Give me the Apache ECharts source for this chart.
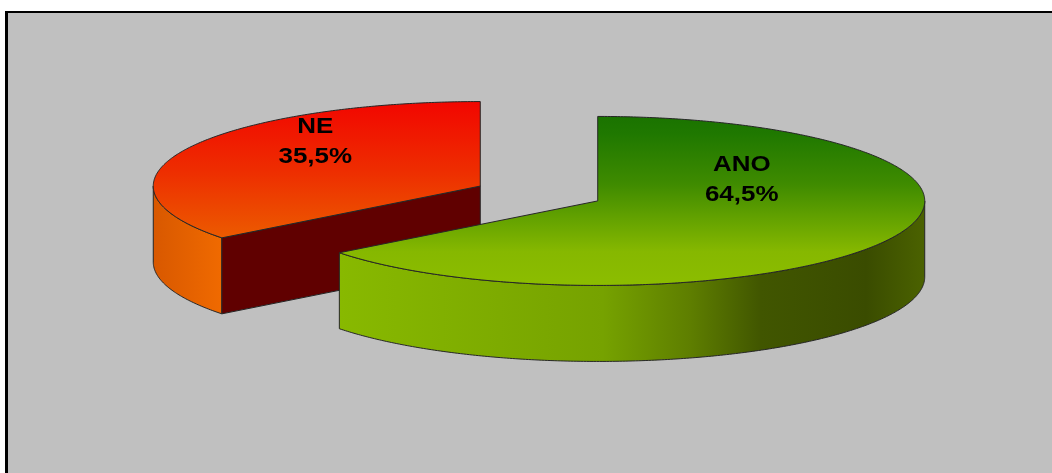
<!DOCTYPE html>
<html>
<head>
<meta charset="utf-8">
<title>ANO / NE</title>
<script src="https://cdn.jsdelivr.net/npm/echarts@6/dist/echarts.min.js"></script>
<style>
  html, body { margin: 0; padding: 0; background: #ffffff; }
  #chart { width: 1052px; height: 473px; }
</style>
</head>
<body>
<div id="chart"></div>
<script>
// Answer categories and their shares (percent)
const categories = ['ANO', 'NE'];
const shares = [64.5, 35.5];

// Geometry of the tilted pie (pixels)
const PIE = { cx: 539, cy: 193.5, rx: 327, ry: 84.5, depth: 76, explode: 0.2 };

// Per-slice paint
const PAINT = {
  ANO: {
    top: [[0, '#1a7300'], [0.1, '#1f7800'], [0.4, '#3f8b00'], [0.8, '#86b800'], [1, '#8cbd00']],
    wall: [[0, '#88b900'], [0.45, '#76a200'], [0.6, '#5e7e00'], [0.72, '#415600'], [0.9, '#3a4c00'], [1, '#4b6200']],
    cut: '#3a4c00',
    labelOffset: [144, -21]
  },
  NE: {
    top: [[0, '#f20600'], [0.4, '#ee2c00'], [0.8, '#ec5a00'], [1, '#ee6600']],
    wall: [[0, '#d85800'], [1, '#f06a00']],
    cut: '#600000',
    labelOffset: [-165, -44]
  }
};

const total = shares.reduce((a, b) => a + b, 0);

function fmtPct(v) {
  return v.toFixed(1).replace('.', ',') + '%';
}

function renderItem(params, api) {
  const i = params.dataIndex;
  const name = categories[i];
  const value = api.value(0);
  let before = 0;
  for (let j = 0; j < i; j++) before += shares[j];
  const TAU = Math.PI * 2;
  const t0 = before / total * TAU;
  const t1 = (before + value) / total * TAU;
  const tm = (t0 + t1) / 2;
  const cx = PIE.cx + PIE.rx * Math.sin(tm) * PIE.explode;
  const cy = PIE.cy - PIE.ry * Math.cos(tm) * PIE.explode;
  const h = PIE.depth;
  const pt = (t, dy) => [cx + PIE.rx * Math.sin(t), cy - PIE.ry * Math.cos(t) + (dy || 0)];
  const arc = (a, b, dy) => {
    const n = Math.max(8, Math.ceil(Math.abs(b - a) / 0.01));
    const out = [];
    for (let k = 0; k <= n; k++) out.push(pt(a + (b - a) * k / n, dy));
    return out;
  };
  const paint = PAINT[name];
  const edge = { stroke: '#262626', lineWidth: 1, lineJoin: 'round' };
  const children = [];
  // nearer slices (lower on screen) are stacked above farther ones
  const z = Math.round((1 - Math.cos(tm)) * 100);

  // outer rim: only the part on the near half faces the viewer
  const a = Math.max(t0, Math.PI / 2);
  const b = Math.min(t1, Math.PI * 1.5);
  if (a < b) {
    const topArc = arc(a, b, 0);
    const botArc = arc(a, b, h).reverse();
    const xs = topArc.map(p => p[0]);
    children.push({
      type: 'polygon', z2: z + 1,
      shape: { points: topArc.concat(botArc) },
      style: Object.assign({
        fill: {
          type: 'linear', global: true,
          x: Math.min.apply(null, xs), y: 0, x2: Math.max.apply(null, xs), y2: 0,
          colorStops: paint.wall.map(s => ({ offset: s[0], color: s[1] }))
        }
      }, edge)
    });
  }

  // radial cut faces that turn toward the viewer
  const cutFace = t => {
    const p = pt(t, 0);
    children.push({
      type: 'polygon', z2: z + 2,
      shape: { points: [[cx, cy], p, [p[0], p[1] + h], [cx, cy + h]] },
      style: Object.assign({ fill: paint.cut }, edge)
    });
  };
  if (Math.sin(t0) < -1e-6) cutFace(t0);
  if (Math.sin(t1) > 1e-6) cutFace(t1);

  // top face
  children.push({
    type: 'polygon', z2: z + 3,
    shape: { points: [[cx, cy]].concat(arc(t0, t1, 0)) },
    style: Object.assign({
      fill: {
        type: 'linear', global: true,
        x: 0, y: cy - PIE.ry, x2: 0, y2: cy + PIE.ry,
        colorStops: paint.top.map(s => ({ offset: s[0], color: s[1] }))
      }
    }, edge)
  });

  // category and share label (slightly widened bold face)
  children.push({
    type: 'text', z2: z + 4,
    x: cx + paint.labelOffset[0],
    y: cy + paint.labelOffset[1],
    scaleX: 1.18,
    style: {
      text: name + '\n' + fmtPct(value),
      fill: '#000000',
      font: 'bold 22px "Liberation Sans", Arial, sans-serif',
      lineHeight: 30,
      align: 'center',
      verticalAlign: 'middle'
    }
  });

  return { type: 'group', children: children };
}

const chart = echarts.init(document.getElementById('chart'), null, { renderer: 'canvas' });

chart.setOption({
  backgroundColor: '#ffffff',
  animation: false,
  graphic: [
    { type: 'rect', z: -10, shape: { x: 5, y: 11, width: 1200, height: 600 }, style: { fill: '#000000' } },
    { type: 'rect', z: -9, shape: { x: 8, y: 13, width: 1200, height: 600 }, style: { fill: '#c0c0c0' } }
  ],
  series: [{
    type: 'custom',
    coordinateSystem: 'none',
    renderItem: renderItem,
    data: categories.map((c, i) => ({ name: c, value: [shares[i], i] })),
    silent: true
  }]
});
</script>
</body>
</html>
